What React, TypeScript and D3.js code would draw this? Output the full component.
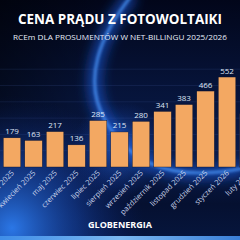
import * as d3 from 'd3';

const W = 240;
const H = 240;

const months = [
  'marzec 2025',
  'kwiecień 2025',
  'maj 2025',
  'czerwiec 2025',
  'lipiec 2025',
  'sierpień 2025',
  'wrzesień 2025',
  'październik 2025',
  'listopad 2025',
  'grudzień 2025',
  'styczeń 2026',
  'luty 2026',
];
const prices = [179, 163, 217, 136, 285, 215, 280, 341, 383, 466, 552, 330];
const gridValues = [100, 200, 300, 400, 500, 600];

const BASE_Y = 167;
const STEP = 21.5;
const X0 = 1.3;

const App = () => {
  const xScale = d3
    .scaleBand<string>()
    .domain(months)
    .range([X0, X0 + months.length * STEP])
    .paddingInner(0.186)
    .paddingOuter(0.093);

  const yScale = d3.scaleLinear().domain([0, 600]).range([BASE_Y, BASE_Y - 600 * 0.163]);

  const font = "'Open Sans', 'Noto Sans', sans-serif";

  // faint horizontal grid
  const grid = gridValues.map(v => (
    <line
      key={`grid-${v}`}
      x1={0}
      x2={W}
      y1={yScale(v)}
      y2={yScale(v)}
      stroke="#5a7fd0"
      strokeOpacity={0.22}
      strokeWidth={0.6}
    />
  ));

  const bars = months.map((m, i) => {
    const x = xScale(m);
    if (x === undefined) {
      return null;
    }
    const y = yScale(prices[i]);
    return (
      <g key={`bar-${m}`}>
        <rect
          x={x}
          y={y}
          width={xScale.bandwidth()}
          height={BASE_Y - y}
          fill="#F3A862"
          stroke="#0a1230"
          strokeWidth={0.4}
        />
        <text
          x={x + xScale.bandwidth() / 2}
          y={y - 3.5}
          textAnchor="middle"
          fontSize={8}
          fontFamily={font}
          fill="#dfe6f5"
        >
          {prices[i]}
        </text>
      </g>
    );
  });

  const xLabels = months.map(m => {
    const x = xScale(m);
    if (x === undefined) {
      return null;
    }
    const cx = x + xScale.bandwidth() / 2 + 2.5;
    const cy = BASE_Y + 6.5;
    return (
      <text
        key={`xl-${m}`}
        transform={`translate(${cx},${cy}) rotate(-45)`}
        textAnchor="end"
        fontSize={7.5}
        fontFamily={font}
        fill="#c9d3ea"
      >
        {m}
      </text>
    );
  });

  return (
    <svg
      width={W}
      height={H}
      style={{ position: 'absolute', left: 0, top: 0, display: 'block' }}
    >
      <defs>
        <linearGradient id="bg" x1="0" y1="0" x2="0" y2="1">
          <stop offset="0%" stopColor="#02061a" />
          <stop offset="35%" stopColor="#061338" />
          <stop offset="65%" stopColor="#0a1c4c" />
          <stop offset="85%" stopColor="#051030" />
          <stop offset="100%" stopColor="#06163e" />
        </linearGradient>
        <linearGradient id="leftDark" x1="0" y1="0" x2="1" y2="0">
          <stop offset="0%" stopColor="#000" stopOpacity={0.45} />
          <stop offset="45%" stopColor="#000" stopOpacity={0} />
        </linearGradient>
        <radialGradient id="glowBL" cx="0.05" cy="0.95" r="0.55">
          <stop offset="0%" stopColor="#2d7cf0" stopOpacity={0.95} />
          <stop offset="50%" stopColor="#1a4fc0" stopOpacity={0.5} />
          <stop offset="100%" stopColor="#0a2070" stopOpacity={0} />
        </radialGradient>
        <radialGradient id="glowMid" cx="0.5" cy="0.62" r="0.2">
          <stop offset="0%" stopColor="#2f7af5" stopOpacity={0.6} />
          <stop offset="100%" stopColor="#1040b0" stopOpacity={0} />
        </radialGradient>
        <linearGradient id="bottomLine" x1="0" y1="0" x2="1" y2="0">
          <stop offset="0%" stopColor="#3f8de8" />
          <stop offset="50%" stopColor="#7ab8f0" />
          <stop offset="100%" stopColor="#3a7fd8" />
        </linearGradient>
        <filter id="blur6" x="-50%" y="-50%" width="200%" height="200%">
          <feGaussianBlur stdDeviation={6} />
        </filter>
        <filter id="blur2" x="-50%" y="-50%" width="200%" height="200%">
          <feGaussianBlur stdDeviation={1.6} />
        </filter>
      </defs>

      <rect width={W} height={H} fill="url(#bg)" />
      <rect width={W} height={H} fill="url(#leftDark)" />
      <rect width={W} height={H} fill="url(#glowBL)" />
      <rect width={W} height={H} fill="url(#glowMid)" />

      {/* glowing arc */}
      <path
        d="M 132 -5 C 100 35, 82 80, 105 120 C 125 155, 160 185, 245 168"
        fill="none"
        stroke="#1f5fe8"
        strokeWidth={14}
        strokeOpacity={0.6}
        filter="url(#blur6)"
      />
      <path
        d="M 132 -5 C 100 35, 82 80, 105 120 C 125 155, 160 185, 245 168"
        fill="none"
        stroke="#4a9bff"
        strokeWidth={2.5}
        strokeOpacity={0.9}
        filter="url(#blur2)"
      />

      <rect x={0} y={236} width={W} height={4} fill="url(#bottomLine)" />

      {grid}
      {bars}
      {xLabels}

      <text
        x={W / 2}
        y={24}
        textAnchor="middle"
        fontSize={13.5}
        fontWeight={700}
        fontFamily={font}
        fill="#ffffff"
        textLength={204}
        lengthAdjust="spacingAndGlyphs"
      >
        CENA PRĄDU Z FOTOWOLTAIKI
      </text>
      <text
        x={W / 2}
        y={40}
        textAnchor="middle"
        fontSize={7.6}
        fontFamily={font}
        fill="#e6ebf7"
        textLength={214}
        lengthAdjust="spacingAndGlyphs"
      >
        RCEm DLA PROSUMENTÓW W NET-BILLINGU 2025/2026
      </text>
      <text
        x={W / 2}
        y={228}
        textAnchor="middle"
        fontSize={9.5}
        fontWeight={700}
        fontFamily={font}
        fill="#ffffff"
        textLength={64}
        lengthAdjust="spacingAndGlyphs"
      >
        GLOBENERGIA
      </text>
    </svg>
  );
};

export default App;
